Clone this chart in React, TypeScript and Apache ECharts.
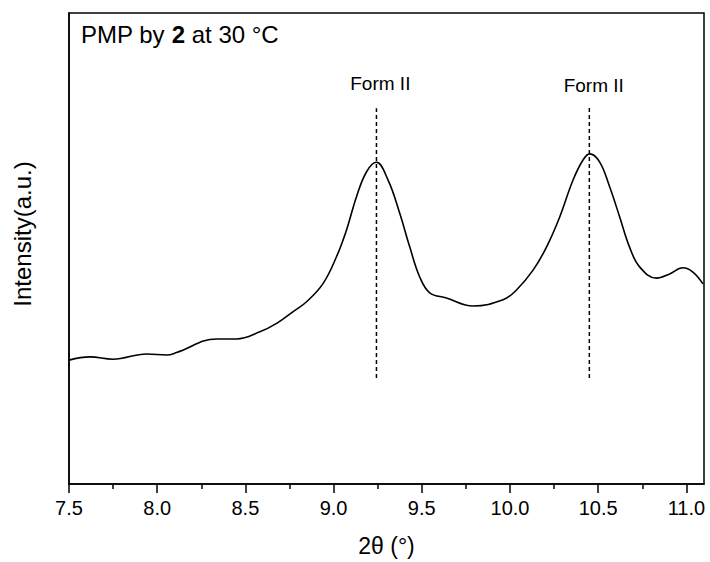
import React, { useEffect, useRef } from "react";
import * as echarts from "echarts";

// 2θ positions (°) and intensities (a.u., 0–100 scale of the plot height)
const twoTheta = [
  7.5, 7.619, 7.749, 7.94, 8.054, 8.11, 8.337, 8.45, 8.582, 8.677, 8.771, 8.847,
  8.941, 9.017, 9.073, 9.13, 9.187, 9.243, 9.309, 9.375, 9.432, 9.489, 9.545,
  9.64, 9.791, 9.961, 10.037, 10.131, 10.207, 10.282, 10.357, 10.414, 10.452,
  10.508, 10.565, 10.622, 10.678, 10.735, 10.83, 10.905, 10.98, 11.037, 11.094,
];
const intensity = [
  26.3, 27.0, 26.5, 27.6, 27.4, 27.9, 30.8, 30.8, 32.3, 34.1, 36.6, 38.7,
  42.6, 48.3, 53.9, 61.0, 66.3, 68.3, 64.5, 57.5, 50.3, 43.9, 40.6,
  39.5, 37.8, 39.1, 41.2, 45.4, 50.3, 56.7, 64.5, 68.8, 70.1,
  68.4, 63.1, 56.7, 50.3, 46.1, 43.7, 44.6, 45.9, 45.0, 42.5,
];

const peakPositions = [9.243, 10.45];
const peakLineBottom = [22.5, 22.5];
const peakLineTop = [79.8, 80.0];
const peakLabels = ["Form II", "Form II"];
const peakLabelX = [9.265, 10.475];
const peakLabelY = [85.1, 84.65];

const majorTicks = [7.5, 8.0, 8.5, 9.0, 9.5, 10.0, 10.5, 11.0];
const minorTicks = [7.75, 8.25, 8.75, 9.25, 9.75, 10.25, 10.75];

const FONT = "Liberation Sans, Arial, Helvetica, sans-serif";

export default function App() {
  const ref = useRef<HTMLDivElement>(null);

  useEffect(() => {
    document.body.style.margin = "0";
    if (!ref.current) return;
    const chart = echarts.init(ref.current, null, { renderer: "svg" });

    const curve = twoTheta.map((x, i) => [x, intensity[i]]);

    const dashSeries = peakPositions.map((x, i) => ({
      type: "line",
      xAxisIndex: 0,
      yAxisIndex: 0,
      data: [
        [x, peakLineBottom[i]],
        [x, peakLineTop[i]],
      ],
      symbol: "none",
      silent: true,
      lineStyle: { color: "#000", width: 1.5, type: [4, 3] },
    }));

    chart.setOption({
      animation: false,
      backgroundColor: "#fff",
      grid: {
        left: 69,
        right: 6,
        top: 13,
        bottom: 78,
        show: true,
        borderColor: "#000",
        borderWidth: 1.5,
        backgroundColor: "transparent",
      },
      graphic: [
        {
          type: "text",
          left: 81,
          top: 22,
          style: {
            text: "{a|PMP by }{b|2}{a| at 30 °C}",
            rich: {
              a: { fontSize: 24, fontFamily: FONT, fill: "#000" },
              b: { fontSize: 24, fontFamily: FONT, fontWeight: "bold", fill: "#000" },
            },
          },
        },
        {
          type: "text",
          x: 22.5,
          y: 234,
          rotation: Math.PI / 2,
          style: {
            text: "Intensity(a.u.)",
            fontSize: 24,
            fontFamily: FONT,
            fill: "#000",
            textAlign: "center",
            textVerticalAlign: "middle",
          },
        },
        ...peakLabels.map((t, i) => ({
          type: "text",
          z: 10,
          style: {
            text: t,
            fontSize: 19,
            fontFamily: FONT,
            fill: "#000",
            textAlign: "center",
            textVerticalAlign: "middle",
          },
          // position resolved after init through convertToPixel below
          id: "peakLabel" + i,
        })),
      ],
      xAxis: [
        {
          type: "value",
          position: "bottom",
          min: 7.5,
          max: 11.1,
          interval: 0.5,
          name: "2θ (°)",
          nameLocation: "middle",
          nameGap: 50,
          nameTextStyle: { fontSize: 23, fontFamily: FONT, color: "#000" },
          axisLine: { show: true, lineStyle: { color: "#000", width: 1.5 } },
          axisTick: {
            show: true,
            inside: false,
            length: 9,
            customValues: majorTicks,
            lineStyle: { color: "#000", width: 1.5 },
          },
          axisLabel: {
            show: true,
            margin: 14,
            fontSize: 20,
            fontFamily: FONT,
            color: "#000",
            customValues: majorTicks,
            formatter: (v: number) => v.toFixed(1),
          },
          splitLine: { show: false },
          minorTick: { show: false },
        },
        {
          type: "value",
          position: "bottom",
          min: 7.5,
          max: 11.1,
          interval: 0.5,
          axisLine: { show: false },
          axisTick: {
            show: true,
            inside: false,
            length: 5,
            customValues: minorTicks,
            lineStyle: { color: "#000", width: 1.5 },
          },
          axisLabel: { show: false },
          splitLine: { show: false },
        },
      ],
      yAxis: {
        type: "value",
        min: 0,
        max: 100,
        axisLine: { show: true, lineStyle: { color: "#000", width: 1.5 } },
        axisTick: { show: false },
        axisLabel: { show: false },
        splitLine: { show: false },
      },
      series: [
        {
          type: "line",
          data: curve,
          smooth: 0.4,
          symbol: "none",
          lineStyle: { color: "#000", width: 1.6 },
        },
        ...dashSeries,
      ],
    });

    // place peak labels through the chart's own scales
    chart.setOption({
      graphic: peakLabels.map((_, i) => {
        const [px, py] = chart.convertToPixel({ xAxisIndex: 0, yAxisIndex: 0 }, [
          peakLabelX[i],
          peakLabelY[i],
        ]);
        return { id: "peakLabel" + i, x: px, y: py };
      }),
    });

    return () => chart.dispose();
  }, []);

  return <div ref={ref} style={{ width: 710, height: 562 }} />;
}
